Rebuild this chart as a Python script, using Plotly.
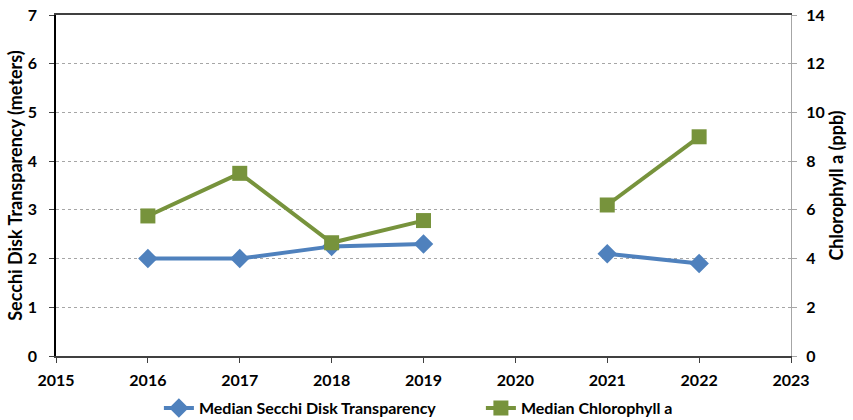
import plotly.graph_objects as go

years = [2016, 2017, 2018, 2019, 2020, 2021, 2022]
secchi = [2.0, 2.0, 2.25, 2.3, None, 2.1, 1.9]
chlorophyll = [5.75, 7.5, 4.65, 5.56, None, 6.2, 9.0]

x_ticks = list(range(2015, 2024))
left_ticks = list(range(0, 8))
right_ticks = list(range(0, 15, 2))

BLUE = "#4F81BD"
GREEN = "#77933C"
FONT = "Lato"

fig = go.Figure()
fig.add_trace(go.Scatter(
    x=years, y=secchi, name="Median Secchi Disk Transparency",
    mode="lines+markers", connectgaps=False,
    line=dict(color=BLUE, width=4),
    marker=dict(symbol="diamond", size=15, color=BLUE),
    yaxis="y",
))
fig.add_trace(go.Scatter(
    x=years, y=chlorophyll, name="Median Chlorophyll a",
    mode="lines+markers", connectgaps=False,
    line=dict(color=GREEN, width=4),
    marker=dict(symbol="square", size=15, color=GREEN),
    yaxis="y2",
))

tickfont = dict(family=FONT, size=16, color="#000000", weight="bold")
titlefont = dict(family=FONT, size=18, color="#000000", weight="bold")

fig.update_layout(
    width=853, height=420,
    margin=dict(l=56, r=62, t=15, b=64, autoexpand=False),
    paper_bgcolor="white", plot_bgcolor="white",
    font=dict(family=FONT, size=16, color="#000000"),
    showlegend=True,
    legend=dict(orientation="h", x=0.14, xanchor="left", y=-0.153, yanchor="middle",
                font=dict(family=FONT, size=16, color="#000000", weight="bold"),
                entrywidth=277, entrywidthmode="pixels",
                traceorder="normal"),
    xaxis=dict(range=[2015, 2023], tickvals=x_ticks, ticktext=[str(v) for v in x_ticks],
               showgrid=False, zeroline=False, showline=True, linecolor="#404040", linewidth=1.5,
               mirror=True, ticks="outside", ticklen=5, tickcolor="#404040",
               ticklabelstandoff=4, automargin=False,
               tickfont=tickfont),
    yaxis=dict(range=[0, 7], tickvals=left_ticks, showgrid=True, gridcolor="#A6A6A6", griddash="dot",
               gridwidth=1, zeroline=False, showline=True, linecolor="#000000", linewidth=1.5,
               ticks="outside", ticklen=5, tickcolor="#404040", tickfont=tickfont,
               ticklabelstandoff=9, automargin=False,
               title=dict(text="Secchi Disk Transparency (meters)", standoff=0,
                          font=titlefont)),
    yaxis2=dict(range=[0, 14], tickvals=right_ticks, overlaying="y", side="right",
                showgrid=False, zeroline=False, showline=True, linecolor="#A6A6A6", linewidth=1,
                ticks="outside", ticklen=5, tickcolor="#A6A6A6", tickfont=tickfont,
                ticklabelstandoff=6, automargin=False,
                title=dict(text="Chlorophyll a (ppb)", standoff=6,
                           font=titlefont)),
)

fig.write_html("out.html", config={"displayModeBar": False},
               post_script="document.body.style.margin='0';")
